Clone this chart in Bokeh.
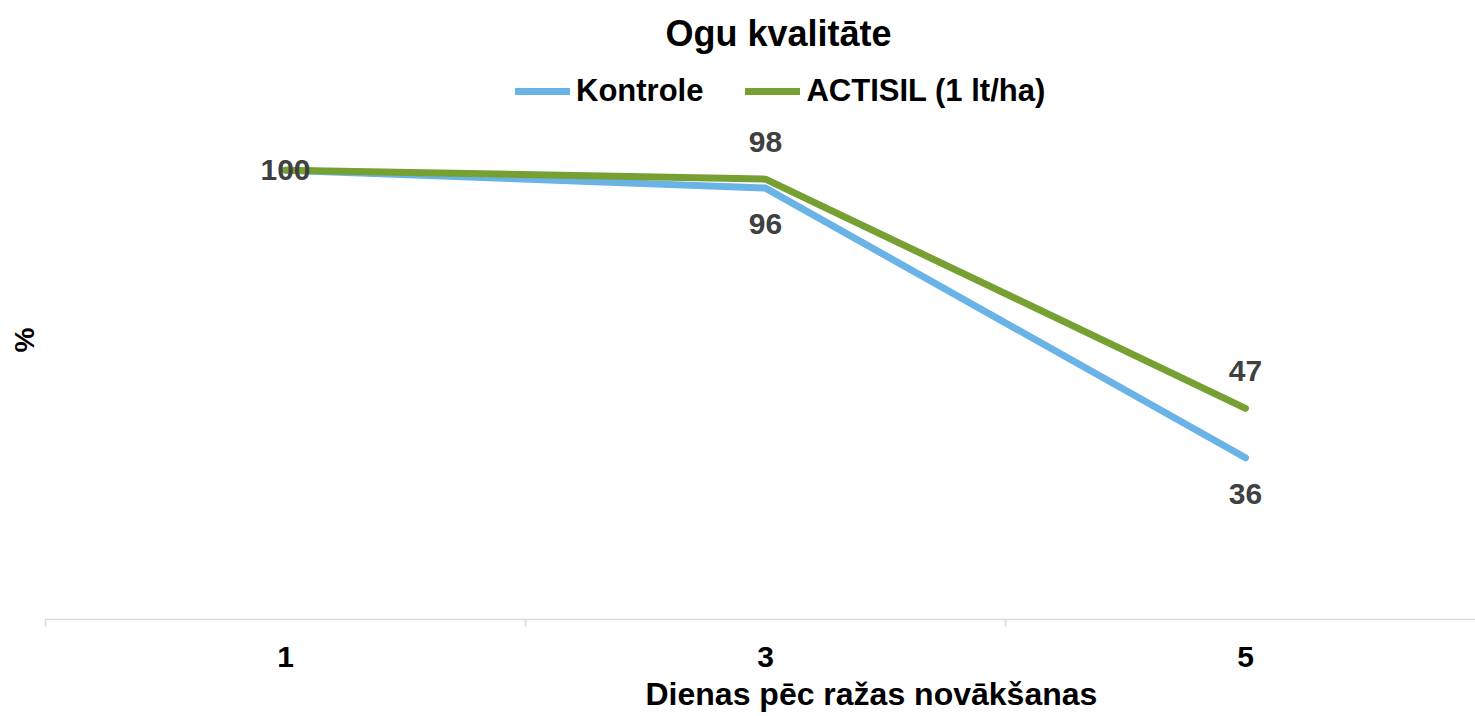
from bokeh.plotting import figure
from bokeh.models import (Range1d, FixedTicker, ColumnDataSource, LabelSet,
                          Legend, LegendItem, Title)
from bokeh.core.properties import value
from bokeh.embed import file_html
from bokeh.resources import INLINE

# ---- data ----
days = ["1", "3", "5"]
kontrole = [100, 96, 36]
actisil = [100, 98, 47]
series_names = ["Kontrole", "ACTISIL (1 lt/ha)"]
title_text = "Ogu kvalitāte"
x_title = "Dienas pēc ražas novākšanas"
y_title = "%"

FONT = "Liberation Sans"
BLUE = "#69B3E6"
GREEN = "#76A132"
LABEL_C = "#404040"

xs = [i + 0.5 for i in range(len(days))]
frame_w = 1430
cat_w = 480

p = figure(width=1475, height=716, output_backend="svg", toolbar_location=None,
           x_range=Range1d(0, frame_w / cat_w), y_range=Range1d(0, 124.4),
           min_border_left=45, min_border_right=0, min_border_top=60,
           min_border_bottom=96)
p.outline_line_color = None
p.grid.visible = False
p.background_fill_color = "white"
p.border_fill_color = "white"

p.title = Title(text=title_text, align="left", offset=620, vertical_align="top",
                text_font=FONT, text_font_size="36px", text_font_style="bold",
                text_color="black", standoff=10)

src_k = ColumnDataSource(dict(x=xs, y=kontrole))
src_a = ColumnDataSource(dict(x=xs, y=actisil))

r_k = p.line("x", "y", source=src_k, line_color=BLUE, line_width=7,
             line_cap="round", line_join="round")
r_a = p.line("x", "y", source=src_a, line_color=GREEN, line_width=7,
             line_cap="round", line_join="round")

# data labels: first (shared) value centered on the point, others below/above
n = len(days)
lab_k = ColumnDataSource(dict(x=xs[1:], y=kontrole[1:], t=[str(v) for v in kontrole[1:]]))
lab_a = ColumnDataSource(dict(x=xs[1:], y=actisil[1:], t=[str(v) for v in actisil[1:]]))
lab_0 = ColumnDataSource(dict(x=xs[:1], y=kontrole[:1], t=[str(v) for v in kontrole[:1]]))
common = dict(text="t", x="x", y="y", text_font=value(FONT), text_font_size=value("30px"),
              text_font_style="bold", text_color=LABEL_C, text_align="center",
              text_baseline="middle")
p.add_layout(LabelSet(source=lab_k, y_offset=-36, **common))
p.add_layout(LabelSet(source=lab_a, y_offset=37, **common))
p.add_layout(LabelSet(source=lab_0, y_offset=0, **common))

# x axis
xa = p.xaxis[0]
xa.ticker = FixedTicker(ticks=xs, minor_ticks=[float(i) for i in range(n + 1)])
xa.major_label_overrides = {x: d for x, d in zip(xs, days)}
xa.major_tick_line_color = None
xa.minor_tick_line_color = "#D9D9D9"
xa.minor_tick_line_width = 1.5
xa.minor_tick_in = 0
xa.minor_tick_out = 7
xa.axis_line_color = "#D9D9D9"
xa.axis_line_width = 1.5
xa.major_label_text_font = FONT
xa.major_label_text_font_size = "30px"
xa.major_label_text_font_style = "bold"
xa.major_label_text_color = "black"
xa.major_label_standoff = 20

# x-axis title, placed below the axis
p.add_layout(Title(text=x_title, align="left", offset=600, text_font=FONT,
                   text_font_size="32px", text_font_style="bold",
                   text_color="black", standoff=9), "below")

# y axis (hidden except its title)
ya = p.yaxis[0]
ya.ticker = FixedTicker(ticks=[])
ya.axis_line_color = None
ya.major_tick_line_color = None
ya.minor_tick_line_color = None
ya.major_label_text_font_size = "0px"
ya.axis_label = y_title
ya.axis_label_text_font = FONT
ya.axis_label_text_font_size = "28px"
ya.axis_label_text_font_style = "bold"
ya.axis_label_text_color = "black"
ya.axis_label_standoff = 6

legend = Legend(items=[LegendItem(label=series_names[0], renderers=[r_k]),
                       LegendItem(label=series_names[1], renderers=[r_a])],
                orientation="horizontal", location=(470, 510),
                label_text_font=FONT, label_text_font_size="31px",
                label_text_font_style="bold", label_text_color="black",
                glyph_width=55, glyph_height=30, label_standoff=6, spacing=42,
                padding=5, margin=0, border_line_color=None,
                background_fill_alpha=0)
p.add_layout(legend)

open("out.html", "w").write(file_html(p, INLINE))
